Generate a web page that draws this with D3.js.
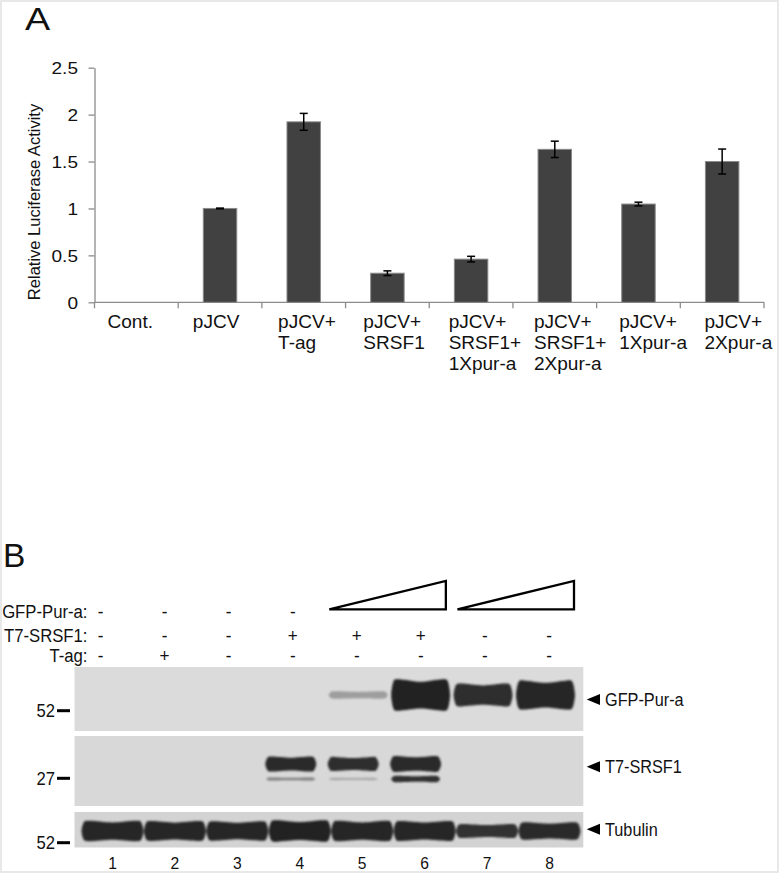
<!DOCTYPE html>
<html><head><meta charset="utf-8">
<script src="https://cdn.jsdelivr.net/npm/d3@7"></script>
<style>html,body{margin:0;padding:0;background:#fff}svg{display:block}</style>
</head><body>
<script>
// ---------- DATA ----------
const categories = [["Cont."],["pJCV"],["pJCV+","T-ag"],["pJCV+","SRSF1"],["pJCV+","SRSF1+","1Xpur-a"],["pJCV+","SRSF1+","2Xpur-a"],["pJCV+","1Xpur-a"],["pJCV+","2Xpur-a"]];
const values = [0, 1.0, 1.923, 0.31, 0.46, 1.63, 1.047, 1.50];
const errors = [0, 0.004, 0.09, 0.025, 0.03, 0.087, 0.02, 0.133];
const yTicks = [0, 0.5, 1, 1.5, 2, 2.5];
const yTickLabels = ["0","0.5","1","1.5","2","2.5"];
const yTitle = "Relative Luciferase Activity";

const rowLabels = ["GFP-Pur-a:", "T7-SRSF1:", "T-ag:"];
const rowMarks = [
  ["-","-","-","-",null,null,null,null],
  ["-","-","-","+","+","+","-","-"],
  ["-","+","-","-","-","-","-","-"]
];
const wedges = [[5,6],[7,8]];
const lanes = [1,2,3,4,5,6,7,8];
const blotNames = ["GFP-Pur-a", "T7-SRSF1", "Tubulin"];
const mwLabels = ["52", "27", "52"];
const gfpBands = [0,0,0,0,0.1,1.0,0.68,0.92];
const srsfMainBands = [0,0,0,0.75,0.7,0.8,0,0];
const srsfLowerBands = [0,0,0,0.16,0.08,0.5,0,0];
const tubulinBands = [0.95,0.92,0.9,1.0,0.95,0.93,0.6,0.78];

// ---------- SETUP ----------
const W = 780, H = 874;
const svg = d3.select("body").append("svg").attr("width", W).attr("height", H);
svg.append("rect").attr("x",1).attr("y",1).attr("width",W-3).attr("height",H-3)
  .attr("fill","#fff").attr("stroke","#e8e8e8").attr("stroke-width",2);

const FONT = "'Liberation Sans', Arial, Helvetica, sans-serif";
function txt(g, x, y, s, o={}) {
  const t = g.append("text")
    .attr("transform", `translate(${x},${y})${o.rotate?` rotate(${o.rotate})`:""} scale(${o.sx||1},1)`)
    .attr("font-family", FONT).attr("font-size", o.size||16)
    .attr("text-anchor", o.anchor||"start").attr("fill", o.fill||"#111").text(s);
  if (o.dy) t.attr("dy", o.dy);
  return t;
}

// ---------- PANEL A ----------
const gA = svg.append("g");
txt(gA, 25, 29.5, "A", {size: 32, sx: 1.18});

const x = d3.scaleBand().domain(d3.range(categories.length)).range([94.5, 764]).padding(0);
const y = d3.scaleLinear().domain([0, 2.5]).range([302.3, 67.7]);
const barW = x.bandwidth() * 0.4;

const yAxis = d3.axisLeft(y).tickValues(yTicks).tickFormat((d,i)=>yTickLabels[i])
  .tickSize(6).tickSizeOuter(0).tickPadding(9);
const ya = gA.append("g").attr("transform","translate(94.5,0)").call(yAxis);
ya.select(".domain").attr("stroke","#8c8c8c").attr("stroke-width",1.3);
ya.selectAll(".tick line").attr("stroke","#8c8c8c").attr("stroke-width",1.3);
ya.selectAll(".tick text").attr("font-family",FONT).attr("font-size",17).attr("fill","#111")
  .attr("transform","scale(1.12,1)").attr("x",-16.5/1.12).attr("dy","0.36em");

// x axis line and boundary ticks
gA.append("line").attr("x1", x.range()[0]).attr("x2", x.range()[1])
  .attr("y1", y(0)).attr("y2", y(0)).attr("stroke","#8c8c8c").attr("stroke-width",1.3);
const bounds = d3.range(categories.length).map(i=>x(i)).concat([x.range()[1]]);
gA.selectAll(".xt").data(bounds).join("line")
  .attr("x1",d=>d).attr("x2",d=>d).attr("y1",y(0)).attr("y2",y(0)+6)
  .attr("stroke","#8c8c8c").attr("stroke-width",1.3);

// bars
const barData = values.map((v,i)=>({v, e: errors[i], i})).filter(d=>d.v>0);
gA.selectAll(".bar").data(barData).join("rect")
  .attr("x", d=>x(d.i)+x.bandwidth()/2-barW/2).attr("width", barW)
  .attr("y", d=>y(d.v)).attr("height", d=>y(0)-y(d.v))
  .attr("fill","#414141").attr("stroke","#8a8a8a").attr("stroke-width",1);

// error bars
const eb = gA.selectAll(".eb").data(barData).join("g");
eb.append("line").attr("x1",d=>x(d.i)+x.bandwidth()/2).attr("x2",d=>x(d.i)+x.bandwidth()/2)
  .attr("y1",d=>y(d.v+d.e)).attr("y2",d=>y(d.v-d.e)).attr("stroke","#000").attr("stroke-width",1.5);
[1,-1].forEach(s=>{
  eb.append("line").attr("x1",d=>x(d.i)+x.bandwidth()/2-4).attr("x2",d=>x(d.i)+x.bandwidth()/2+4)
    .attr("y1",d=>y(d.v+s*d.e)).attr("y2",d=>y(d.v+s*d.e)).attr("stroke","#000").attr("stroke-width",1.5);
});

// category labels (left-aligned lines, as in the figure)
categories.forEach((lines,i)=>{
  const left = x(i) + 13 + 1.6*i;
  lines.forEach((l,j)=>{
    txt(gA, left, 327.5 + j*21.3, l, {size:18.5, sx:1.03, anchor:"start"});
  });
});

// y title
txt(gA, 39.5, 202, yTitle, {size:16.5, sx:1.0, anchor:"middle", rotate:-90});

// ---------- PANEL B ----------
const gB = svg.append("g");
txt(gB, 3, 567, "B", {size: 33.5});

const col = d3.scaleLinear().domain([1,8]).range([100.5, 549]);
const lane = d3.scaleLinear().domain([1,8]).range([112.5, 549.5]);
const rowY = [617.5, 641.5, 662];

rowLabels.forEach((lab,r)=>{
  txt(gB, 87.5, rowY[r], lab, {size:19, sx:0.88, anchor:"end"});
  rowMarks[r].forEach((m,i)=>{
    if (m) txt(gB, col(i+1), rowY[r], m, {size:19, sx:0.9, anchor:"middle"});
  });
});

// wedges
gB.selectAll(".wedge").data(wedges).join("path")
  .attr("d", d=>{
    const x0 = col(d[0]) - 27.5, x1 = col(d[1]) + 25, yb = 609.3, yt = 581;
    return `M${x0},${yb} L${x1},${yt} L${x1},${yb} Z`;
  })
  .attr("fill","#fff").attr("stroke","#000").attr("stroke-width",2.3).attr("stroke-linejoin","miter");

// blot panels
const panels = [
  {y0:667, y1:731, bg:"#dbdbdb"},
  {y0:736, y1:806, bg:"#d8d8d8"},
  {y0:812, y1:847.5, bg:"#d3d3d3"}
];
const px0 = 74.5, px1 = 583.3;
const defs = svg.append("defs");
defs.append("filter").attr("id","blur").attr("x","-20%").attr("y","-50%").attr("width","140%").attr("height","200%")
  .append("feGaussianBlur").attr("stdDeviation",1.3);

gB.selectAll(".panel").data(panels).join("rect")
  .attr("x",px0).attr("y",d=>d.y0).attr("width",px1-px0).attr("height",d=>d.y1-d.y0)
  .attr("fill",d=>d.bg);

const bandColor = d3.scaleLinear().domain([0,0.3,1]).range(["#d0d0d0","#3a3a3a","#232323"]).clamp(true);
const bandLine = d3.line().curve(d3.curveCardinalClosed.tension(0.2));
function bandPath(cx, cy, w, h) {
  const x0 = cx - w/2, x1 = cx + w/2;
  const pts = [
    [x0+1, cy-h*0.5],[x0+w*0.12, cy-h*0.56],[cx, cy-h*0.47],[x1-w*0.12, cy-h*0.56],[x1-1, cy-h*0.5],
    [x1+1.5, cy],
    [x1-1, cy+h*0.5],[x1-w*0.12, cy+h*0.56],[cx, cy+h*0.48],[x0+w*0.12, cy+h*0.56],[x0+1, cy+h*0.5],
    [x0-1.5, cy]
  ];
  return bandLine(pts);
}
function drawBands(data, cy, maxH, w, dx) {
  const bd = data.map((v,i)=>({v, lane: lanes[i]})).filter(d=>d.v>0);
  gB.append("g").attr("filter","url(#blur)").selectAll("path").data(bd).join("path")
    .attr("d", d=>bandPath(lane(d.lane)+dx, cy, w, maxH*(0.15+0.85*d.v)))
    .attr("fill", d=>bandColor(d.v));
}
drawBands(gfpBands, 695, 28, 56, -4);
drawBands(srsfMainBands, 764, 17, 48, -9);
drawBands(srsfLowerBands, 779, 10, 46, -9);
drawBands(tubulinBands, 831, 19, 59, 0);

// MW markers
const mwY = [710.7, 778.3, 842.7];
mwLabels.forEach((m,i)=>{
  txt(gB, 55, mwY[i], m, {size:17.5, sx:0.95, anchor:"end", dy:"0.36em"});
  gB.append("line").attr("x1",57).attr("x2",70).attr("y1",mwY[i]).attr("y2",mwY[i])
    .attr("stroke","#000").attr("stroke-width",3);
});

// right labels
const nameY = [699.5, 766.7, 829.3];
blotNames.forEach((n,i)=>{
  gB.append("path").attr("d",`M586.7,${nameY[i]} L600,${nameY[i]-5.5} L600,${nameY[i]+5.5} Z`).attr("fill","#000");
  txt(gB, 605, nameY[i], n, {size:18.5, sx:0.88, dy:"0.36em"});
});

// lane numbers
lanes.forEach(l=>{
  txt(gB, lane(l), 868.5, String(l), {size:17, sx:0.92, anchor:"middle"});
});
</script>
</body></html>
